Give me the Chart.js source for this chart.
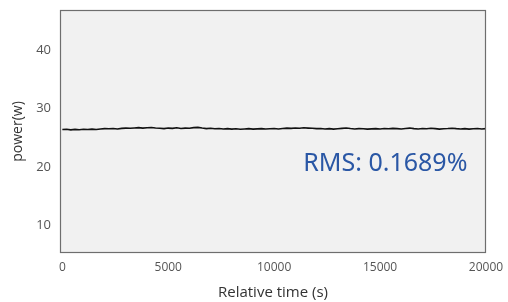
<!DOCTYPE html>
<html><head><meta charset="utf-8">
<script src="https://cdn.jsdelivr.net/npm/chart.js@4"></script>
<style>html,body{margin:0;padding:0;background:#fff}#w{width:508px;height:302px}</style>
</head><body><div id="w"><canvas id="c"></canvas></div>
<script>
const times = [0,200,400,600,800,1000,1200,1400,1600,1800,2000,
2200,2400,2600,2800,3000,3200,3400,3600,3800,4000,
4200,4400,4600,4800,5000,5200,5400,5600,5800,6000,
6200,6400,6600,6800,7000,7200,7400,7600,7800,8000,
8200,8400,8600,8800,9000,9200,9400,9600,9800,10000,
10200,10400,10600,10800,11000,11200,11400,11600,11800,12000,
12200,12400,12600,12800,13000,13200,13400,13600,13800,14000,
14200,14400,14600,14800,15000,15200,15400,15600,15800,16000,
16200,16400,16600,16800,17000,17200,17400,17600,17800,18000,
18200,18400,18600,18800,19000,19200,19400,19600,19800,20000];
const power = [26.45,26.5,26.4,26.48,26.42,26.5,26.45,26.52,26.47,26.55,26.6,
26.58,26.62,26.55,26.65,26.7,26.66,26.72,26.78,26.7,26.75,
26.8,26.72,26.68,26.6,26.7,26.65,26.75,26.62,26.7,26.66,
26.78,26.82,26.7,26.6,26.68,26.58,26.62,26.55,26.6,26.52,
26.58,26.5,26.55,26.6,26.52,26.56,26.6,26.54,26.58,26.62,
26.55,26.62,26.7,26.65,26.72,26.68,26.75,26.7,26.66,26.6,
26.62,26.55,26.6,26.52,26.58,26.65,26.72,26.62,26.55,26.6,
26.58,26.52,26.56,26.6,26.55,26.62,26.58,26.65,26.6,26.55,
26.62,26.7,26.6,26.55,26.62,26.58,26.66,26.6,26.52,26.58,
26.62,26.68,26.6,26.55,26.6,26.52,26.58,26.62,26.55,26.6];
const xTicks = [0,5000,10000,15000,20000];
const yTicks = [10,20,30,40];
const annotationText = "RMS: 0.1689%";
const annotationPos = [15250, 20.6];

const framePlugin = {
  id:'frame',
  beforeDraw(chart){
    const {ctx, chartArea:a} = chart;
    ctx.save(); ctx.fillStyle='#f1f1f1';
    ctx.fillRect(a.left,a.top,a.right-a.left,a.bottom-a.top); ctx.restore();
  },
  afterDraw(chart){
    const {ctx, chartArea:a, scales} = chart;
    ctx.save(); ctx.strokeStyle='#6e6e6e'; ctx.lineWidth=1.2;
    ctx.strokeRect(a.left+0.5,a.top+0.5,a.right-a.left-1,a.bottom-a.top-1);
    ctx.fillStyle='#2a57a5'; ctx.font='25px "Noto Sans", "Open Sans", sans-serif';
    ctx.textAlign='center'; ctx.textBaseline='middle';
    ctx.fillText(annotationText, scales.x.getPixelForValue(annotationPos[0]), scales.y.getPixelForValue(annotationPos[1]));
    ctx.restore();
  }
};

new Chart(document.getElementById('c'), {
  type:'line',
  data:{ datasets:[{ data: times.map((t,i)=>({x:t,y:power[i]})), borderColor:'#111', borderWidth:1.6, pointRadius:0, tension:0 }]},
  options:{
    responsive:true, maintainAspectRatio:false, animation:false,
    layout:{padding:{top:10,right:22,left:6,bottom:0}},
    plugins:{legend:{display:false},tooltip:{enabled:false}},
    scales:{
      x:{ type:'linear', min:-110, max:20000,
        afterBuildTicks(s){ s.ticks = xTicks.map(v=>({value:v})); },
        afterFit(s){ s.height = 49; s.paddingLeft = 0; s.paddingRight = 0; },
        grid:{display:false, drawTicks:false}, border:{display:false},
        ticks:{color:'#555', padding:7, maxRotation:0, callback:v=>String(v), font:{family:'"Open Sans", sans-serif', size:12}},
        title:{display:true, text:'Relative time (s)', color:'#333', padding:{top:13, bottom:0}, font:{family:'"Open Sans", sans-serif', size:15}}
      },
      y:{ min:5.33, max:46.9,
        afterBuildTicks(s){ s.ticks = yTicks.map(v=>({value:v})); },
        afterFit(s){ s.width = 54; s.paddingTop = 0; s.paddingBottom = 0; },
        grid:{display:false, drawTicks:false}, border:{display:false},
        ticks:{color:'#555', padding:9, callback:v=>String(v), font:{family:'"Open Sans", sans-serif', size:13}},
        title:{display:true, text:'power(w)', color:'#333', padding:{bottom:6}, font:{family:'"Open Sans", sans-serif', size:14}}
      }
    }
  },
  plugins:[framePlugin]
});
</script></body></html>
